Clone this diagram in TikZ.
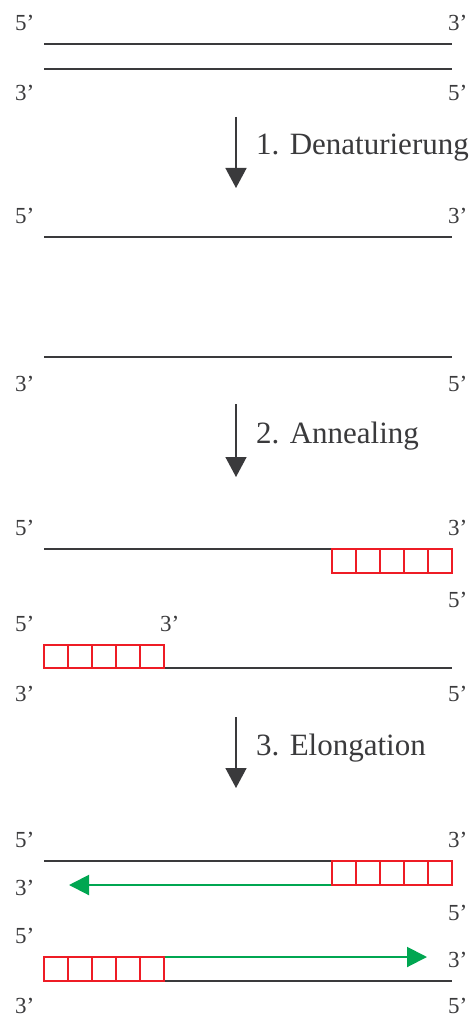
\documentclass[tikz,border=0pt]{standalone}
\usepackage{fontspec}
\setmainfont{Liberation Serif}
\usetikzlibrary{arrows.meta}
\definecolor{strand}{HTML}{3A3A3C}
\definecolor{txt}{HTML}{3A3A3C}
\definecolor{primer}{HTML}{EE1C25}
\definecolor{ext}{HTML}{00A651}
\tikzset{
  lbl/.style={inner sep=0pt, text=txt, font=\fontsize{23}{23}\selectfont},
  lblL/.style={lbl, anchor=base west},
  steptxt/.style={inner sep=0pt, anchor=base west, text=txt, font=\fontsize{31}{31}\selectfont},
  strandline/.style={draw=strand, line width=2pt},
  primerbox/.style={draw=primer, line width=1.5pt},
  extarrow/.style={draw=ext, line width=2pt, -{Triangle[length=20pt,width=20pt]}},
  steparrow/.style={draw=strand, line width=1.5pt, -{Triangle[length=20pt,width=21pt]}}
}
\begin{document}
\begin{tikzpicture}[x=1pt,y=-1pt]
\useasboundingbox[fill=white] (0,0) rectangle (474,1016);

% ---------- Stage 0: double strand ----------
\coordinate (a1l) at (44,44);  \coordinate (a1r) at (452,44);
\coordinate (a2l) at (44,69);  \coordinate (a2r) at (452,69);
\draw[strandline] (a1l) -- (a1r);
\draw[strandline] (a2l) -- (a2r);
\node[lblL] (a5tl) at (15,31) {5’};
\node[lblL] (a3tr) at (448,31) {3’};
\node[lblL] (a3bl) at (15,101) {3’};
\node[lblL] (a5br) at (448,101) {5’};

% arrow 1
\coordinate (s1a) at (236,117); \coordinate (s1b) at (236,188);
\draw[steparrow] (s1a) -- (s1b);
\node[steptxt] (s1t) at (256,155) {1. Denaturierung};

% ---------- Stage 1: separated strands ----------
\coordinate (b1l) at (44,237); \coordinate (b1r) at (452,237);
\coordinate (b2l) at (44,357); \coordinate (b2r) at (452,357);
\draw[strandline] (b1l) -- (b1r);
\draw[strandline] (b2l) -- (b2r);
\node[lblL] (b5tl) at (15,223) {5’};
\node[lblL] (b3tr) at (448,223) {3’};
\node[lblL] (b3bl) at (15,391) {3’};
\node[lblL] (b5br) at (448,391) {5’};

% arrow 2
\coordinate (s2a) at (236,404); \coordinate (s2b) at (236,477);
\draw[steparrow] (s2a) -- (s2b);
\node[steptxt] (s2t) at (256,443) {2. Annealing};

% ---------- Stage 2: annealing ----------
\coordinate (c1l) at (44,549); \coordinate (c1r) at (452,549);
\coordinate (c2l) at (44,668); \coordinate (c2r) at (452,668);
\draw[strandline] (c1l) -- (c1r);
\draw[strandline] (c2l) -- (c2r);
\foreach \i in {0,...,4} {
  \draw[primerbox] ({332+24*\i},549) rectangle ({356+24*\i},573);
  \draw[primerbox] ({44+24*\i},645) rectangle ({68+24*\i},668);
}
\node[lblL] (c5tl) at (15,535) {5’};
\node[lblL] (c3tr) at (448,535) {3’};
\node[lblL] (c5pr) at (448,607) {5’};
\node[lblL] (c5pl) at (15,631) {5’};
\node[lblL] (c3pl) at (160,631) {3’};
\node[lblL] (c3bl) at (15,701) {3’};
\node[lblL] (c5br) at (448,701) {5’};

% arrow 3
\coordinate (s3a) at (236,717); \coordinate (s3b) at (236,788);
\draw[steparrow] (s3a) -- (s3b);
\node[steptxt] (s3t) at (256,755) {3. Elongation};

% ---------- Stage 3: elongation ----------
\coordinate (d1l) at (44,861); \coordinate (d1r) at (452,861);
\coordinate (d2l) at (44,981); \coordinate (d2r) at (452,981);
\draw[strandline] (d1l) -- (d1r);
\draw[strandline] (d2l) -- (d2r);
\coordinate (e1s) at (332,885); \coordinate (e1e) at (69,885);
\coordinate (e2s) at (164,957); \coordinate (e2e) at (427,957);
\draw[extarrow] (e1s) -- (e1e);
\draw[extarrow] (e2s) -- (e2e);
\foreach \i in {0,...,4} {
  \draw[primerbox] ({332+24*\i},861) rectangle ({356+24*\i},885);
  \draw[primerbox] ({44+24*\i},957) rectangle ({68+24*\i},981);
}
\node[lblL] (d5tl) at (15,847) {5’};
\node[lblL] (d3tr) at (448,847) {3’};
\node[lblL] (d3ml) at (15,895) {3’};
\node[lblL] (d5mr) at (448,920) {5’};
\node[lblL] (d5ml) at (15,943) {5’};
\node[lblL] (d3mr) at (448,967) {3’};
\node[lblL] (d3bl) at (15,1013) {3’};
\node[lblL] (d5br) at (448,1013) {5’};
\end{tikzpicture}
\end{document}
